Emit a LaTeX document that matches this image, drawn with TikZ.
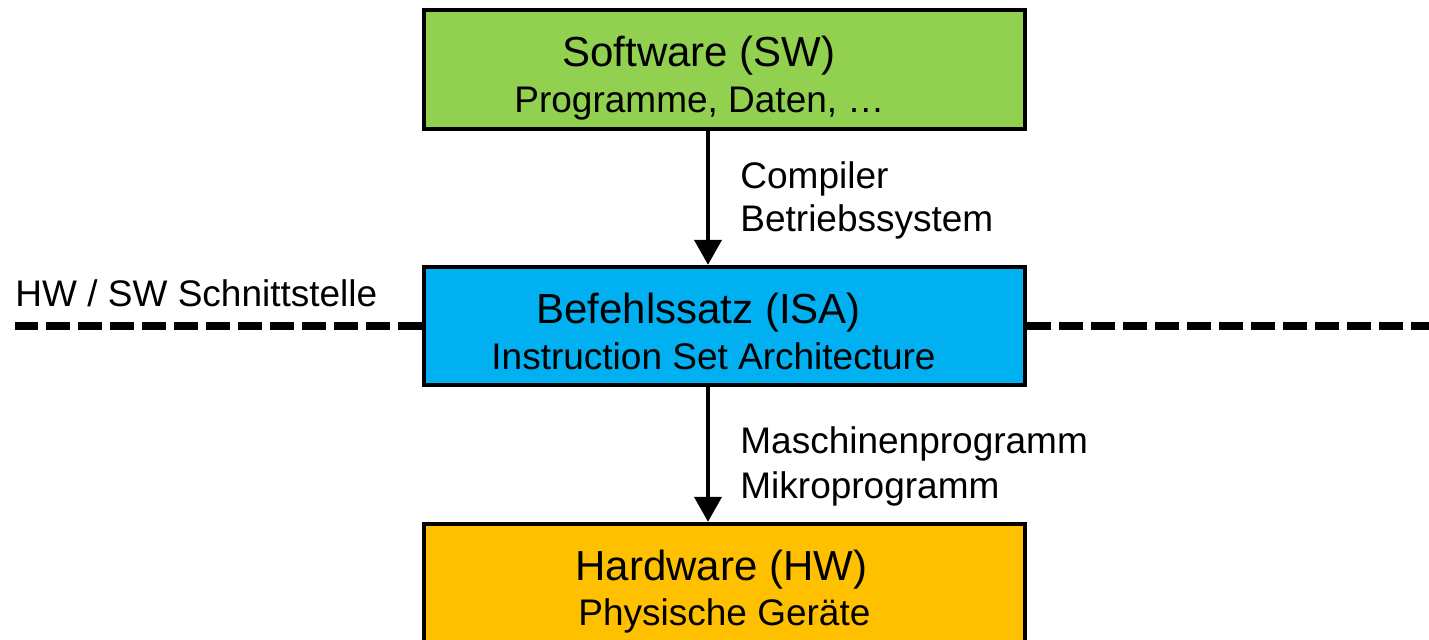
\documentclass[tikz,border=0pt]{standalone}
\usepackage{fontspec}
\setmainfont{Liberation Sans}
\usetikzlibrary{arrows.meta}
\definecolor{swgreen}{HTML}{92D050}
\definecolor{isablue}{HTML}{00B0F0}
\definecolor{hworange}{HTML}{FFC000}
\begin{document}
\begin{tikzpicture}[x=0.5pt,y=-0.5pt,
  box/.style={draw=black,line width=2.2pt,minimum width=300.5pt,inner sep=0pt},
  title/.style={anchor=base west,inner sep=0pt,font=\fontsize{21}{25}\selectfont},
  sub/.style={anchor=base west,inner sep=0pt,font=\fontsize{18.5}{22}\selectfont},
  arr/.style={line width=2pt,-{Triangle[length=12.5pt,width=13.5pt]}},
  dashline/.style={line width=4pt,dash pattern=on 12pt off 4pt}]
\useasboundingbox (0,0) rectangle (1429,639);
\clip (0,0) rectangle (1429,639);
% boxes
\node[box,fill=swgreen,minimum height=59.5pt] (sw) at (724.5,69.5) {};
\node[box,fill=isablue,minimum height=59pt] (isa) at (724.5,326) {};
\node[box,fill=hworange,minimum height=80pt] (hw) at (724.5,604) {};
% dashed interface line
\coordinate (dl) at (15,326);
\coordinate (dr) at (1429,326);
\draw[dashline] (isa.west) -- (dl);
\draw[dashline] (isa.east) -- (dr);
% texts in boxes
\node[title] (swt) at (562,66) {Software (SW)};
\node[sub] (sws) at (514,112) {Programme, Daten, …};
\node[title] (isat) at (536,323) {Befehlssatz (ISA)};
\node[sub] (isas) at (491,369) {Instruction Set Architecture};
\node[title] (hwt) at (575,580) {Hardware (HW)};
\node[sub] (hws) at (578,625) {Physische Geräte};
% arrows
\coordinate (ax) at (708,0);
\draw[arr] (sw.south -| ax) -- (isa.north -| ax);
\draw[arr] (isa.south -| ax) -- (hw.north -| ax);
% labels
\node[sub] (l1) at (740,188) {Compiler};
\node[sub] (l2) at (740,231) {Betriebssystem};
\node[sub] (l3) at (740,453) {Maschinenprogramm};
\node[sub] (l4) at (740,498) {Mikroprogramm};
\node[sub] (hwsw) at (15,306) {HW / SW Schnittstelle};
\end{tikzpicture}
\end{document}
